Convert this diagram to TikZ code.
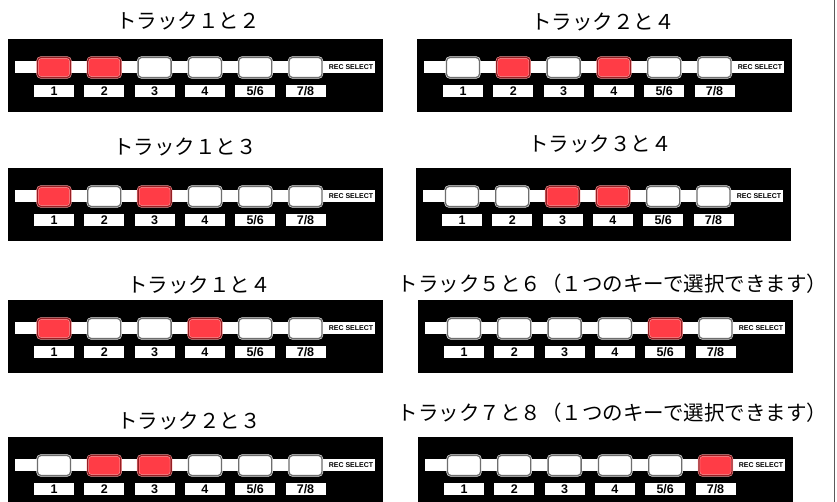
\documentclass[tikz,border=0pt]{standalone}
\usepackage{fontspec}
\setmainfont{Liberation Sans}
\newfontfamily\jpfont{Noto Sans CJK JP}
\definecolor{btnred}{RGB}{255,60,70}
\definecolor{btnredline}{RGB}{150,30,35}
\definecolor{btnredhalo}{RGB}{255,170,170}
\definecolor{btngray}{RGB}{110,110,110}
\definecolor{edgegray}{RGB}{90,90,90}
\tikzset{
  panelbg/.style={fill=black, inner sep=0pt, minimum width=375pt, minimum height=73pt, anchor=north west},
  stripbar/.style={fill=white, inner sep=0pt, minimum width=360pt, minimum height=12pt, anchor=north west},
  btnbase/.style={rounded corners=3.5pt, minimum width=33pt, minimum height=20pt, inner sep=0pt,
                  line width=0.5pt, double distance=1.3pt},
  on/.style={btnbase, fill=btnred, draw=btnredhalo, double=btnredline},
  off/.style={btnbase, fill=white, draw=white, double=btngray},
  lab/.style={fill=white, minimum width=40pt, minimum height=12pt, inner sep=0pt,
              font=\bfseries\fontsize{12.5}{12.5}\selectfont},
  rec/.style={inner sep=0pt, font=\bfseries\fontsize{7}{7}\selectfont},
  ttl/.style={inner sep=0pt, font=\jpfont\fontsize{20.5}{20.5}\selectfont}
}
\newcommand\recpanel[4]{%
  \begin{scope}[shift={(#2,#3)}]
    \node[panelbg] (#1) at (0,0) {};
    \node[stripbar] (#1s) at (7,22) {};
    \foreach \st [count=\i] in {#4} {
      \pgfmathsetmacro\cx{46+50.3*(\i-1)}
      \node[\st] (#1b\i) at (\cx,28.5) {};
      \node[lab] (#1l\i) at (\cx,52) {\ifcase\i\or 1\or 2\or 3\or 4\or 5/6\or 7/8\fi};
    }
    \node[rec] (#1r) at (343,28) {REC SELECT};
  \end{scope}%
}
\begin{document}
\begin{tikzpicture}[x=1pt,y=-1pt]
  \useasboundingbox (0,0) rectangle (837,502);
  \clip (0,0) rectangle (837,502);
  \fill[white] (0,0) rectangle (837,502);

  \recpanel{pA}{8}{39}{on,on,off,off,off,off}
  \recpanel{pB}{8}{168}{on,off,on,off,off,off}
  \recpanel{pC}{8}{300}{on,off,off,on,off,off}
  \recpanel{pD}{8}{437}{off,on,on,off,off,off}
  \recpanel{pE}{417}{39}{off,on,off,on,off,off}
  \recpanel{pF}{416}{168}{off,off,on,on,off,off}
  \recpanel{pG}{418}{300}{off,off,off,off,on,off}
  \recpanel{pH}{418}{437}{off,off,off,off,off,on}

  \node[ttl] (tA) at (188,21) {トラック１と２};
  \node[ttl] (tB) at (185,147) {トラック１と３};
  \node[ttl] (tC) at (199,285) {トラック１と４};
  \node[ttl] (tD) at (189,421) {トラック２と３};
  \node[ttl] (tE) at (603,22) {トラック２と４};
  \node[ttl] (tF) at (600,144) {トラック３と４};
  \node[ttl] (tG) at (612.5,284) {トラック５と６（１つのキーで選択できます）};
  \node[ttl] (tH) at (612.5,413) {トラック７と８（１つのキーで選択できます）};

  \coordinate (vt) at (834.5,0);
  \coordinate (vb) at (834.5,502);
  \draw[edgegray, line width=1.5pt] (vt) -- (vb);
\end{tikzpicture}
\end{document}
